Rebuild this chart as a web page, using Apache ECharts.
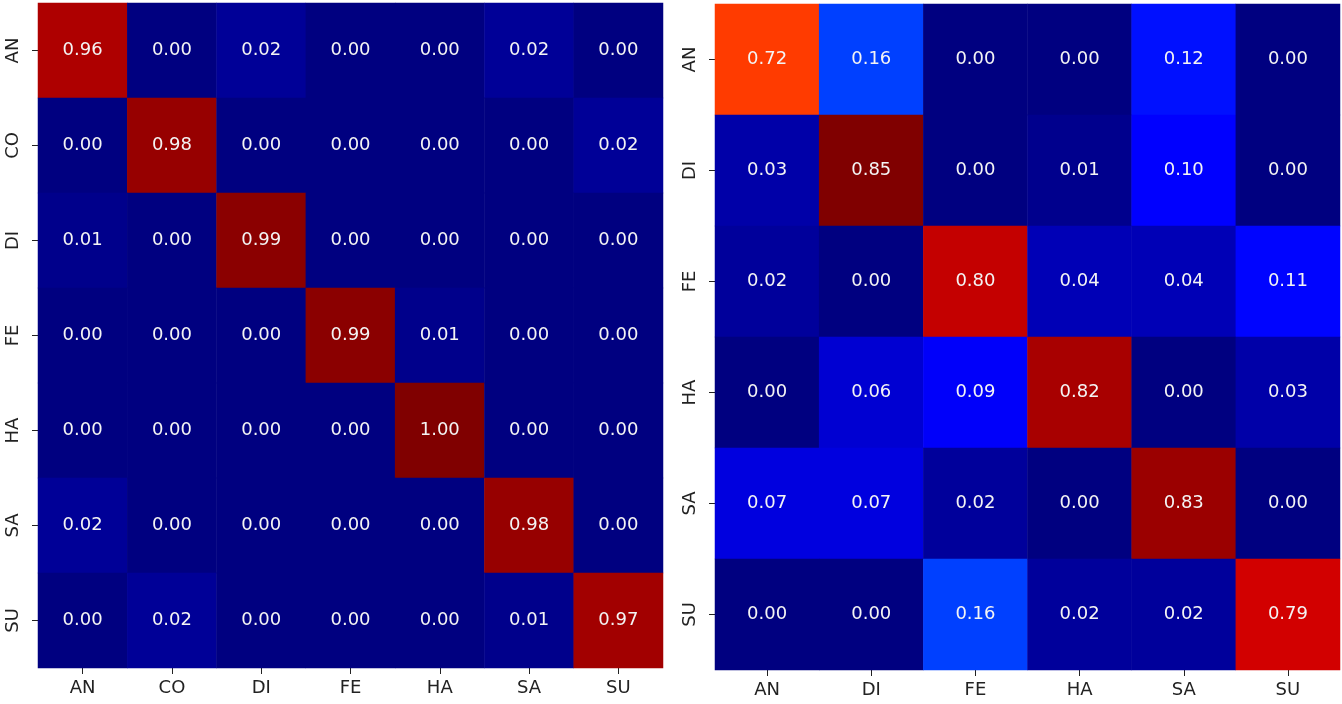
<!DOCTYPE html>
<html>
<head>
<meta charset="utf-8">
<script src="https://cdn.jsdelivr.net/npm/echarts@6/dist/echarts.min.js"></script>
<style>
  html, body { margin: 0; padding: 0; background: #fff; }
  #main { width: 1342px; height: 704px; }
</style>
</head>
<body>
<div id="main"></div>
<script>
// categories
var leftCats = ['AN', 'CO', 'DI', 'FE', 'HA', 'SA', 'SU'];
var rightCats = ['AN', 'DI', 'FE', 'HA', 'SA', 'SU'];

// left confusion matrix (rows = true, cols = predicted)
var leftMatrix = [
    [0.96, 0.00, 0.02, 0.00, 0.00, 0.02, 0.00],
    [0.00, 0.98, 0.00, 0.00, 0.00, 0.00, 0.02],
    [0.01, 0.00, 0.99, 0.00, 0.00, 0.00, 0.00],
    [0.00, 0.00, 0.00, 0.99, 0.01, 0.00, 0.00],
    [0.00, 0.00, 0.00, 0.00, 1.00, 0.00, 0.00],
    [0.02, 0.00, 0.00, 0.00, 0.00, 0.98, 0.00],
    [0.00, 0.02, 0.00, 0.00, 0.00, 0.01, 0.97]
];

// right confusion matrix
var rightMatrix = [
    [0.72, 0.16, 0.00, 0.00, 0.12, 0.00],
    [0.03, 0.85, 0.00, 0.01, 0.10, 0.00],
    [0.02, 0.00, 0.80, 0.04, 0.04, 0.11],
    [0.00, 0.06, 0.09, 0.82, 0.00, 0.03],
    [0.07, 0.07, 0.02, 0.00, 0.83, 0.00],
    [0.00, 0.00, 0.16, 0.02, 0.02, 0.79]
];

// matplotlib "jet" colormap, piecewise linear
function seg(pts, t) {
    for (var i = 1; i < pts.length; i++) {
        if (t <= pts[i][0]) {
            var a = pts[i - 1], b = pts[i];
            return a[1] + (b[1] - a[1]) * (t - a[0]) / (b[0] - a[0]);
        }
    }
    return pts[pts.length - 1][1];
}
function jet(t) {
    var r = seg([[0, 0], [0.35, 0], [0.66, 1], [0.89, 1], [1, 0.5]], t);
    var g = seg([[0, 0], [0.125, 0], [0.375, 1], [0.64, 1], [0.91, 0], [1, 0]], t);
    var b = seg([[0, 0.5], [0.11, 1], [0.34, 1], [0.65, 0], [1, 0]], t);
    return 'rgb(' + Math.round(r * 255) + ',' + Math.round(g * 255) + ',' + Math.round(b * 255) + ')';
}
var jetColors = [];
for (var i = 0; i <= 200; i++) jetColors.push(jet(i / 200));

function toData(m) {
    var out = [];
    m.forEach(function (row, y) {
        row.forEach(function (v, x) { out.push([x, y, v]); });
    });
    return out;
}
function maxOf(m) {
    return Math.max.apply(null, m.map(function (r) { return Math.max.apply(null, r); }));
}

var font = 'DejaVu Sans';
function xAx(cats, gi) {
    return {
        type: 'category', data: cats, gridIndex: gi,
        axisLine: { show: false },
        axisTick: { show: true, alignWithLabel: true, length: 6, lineStyle: { color: '#222' } },
        axisLabel: { color: '#222', fontSize: 18, fontFamily: font, margin: 11 },
        splitLine: { show: false }
    };
}
function yAx(cats, gi) {
    return {
        type: 'category', data: cats, gridIndex: gi, inverse: true,
        axisLine: { show: false },
        axisTick: { show: true, alignWithLabel: true, length: 6, lineStyle: { color: '#222' } },
        axisLabel: { color: '#222', fontSize: 18, fontFamily: font, rotate: 90, margin: 16 },
        splitLine: { show: false }
    };
}
var cellLabel = {
    show: true, color: '#f4f4f4', fontSize: 18, fontFamily: font,
    formatter: function (p) { return p.value[2].toFixed(2); }
};

var chart = echarts.init(document.getElementById('main'));
chart.setOption({
    animation: false,
    backgroundColor: '#fff',
    grid: [
        { left: 38, top: 3, width: 625, height: 665 },
        { left: 715, top: 4, width: 625, height: 666 }
    ],
    xAxis: [xAx(leftCats, 0), xAx(rightCats, 1)],
    yAxis: [yAx(leftCats, 0), yAx(rightCats, 1)],
    visualMap: [
        { show: false, type: 'continuous', seriesIndex: 0, min: 0, max: maxOf(leftMatrix), inRange: { color: jetColors } },
        { show: false, type: 'continuous', seriesIndex: 1, min: 0, max: maxOf(rightMatrix), inRange: { color: jetColors } }
    ],
    series: [
        { type: 'heatmap', xAxisIndex: 0, yAxisIndex: 0, data: toData(leftMatrix), label: cellLabel },
        { type: 'heatmap', xAxisIndex: 1, yAxisIndex: 1, data: toData(rightMatrix), label: cellLabel }
    ]
});
</script>
</body>
</html>
